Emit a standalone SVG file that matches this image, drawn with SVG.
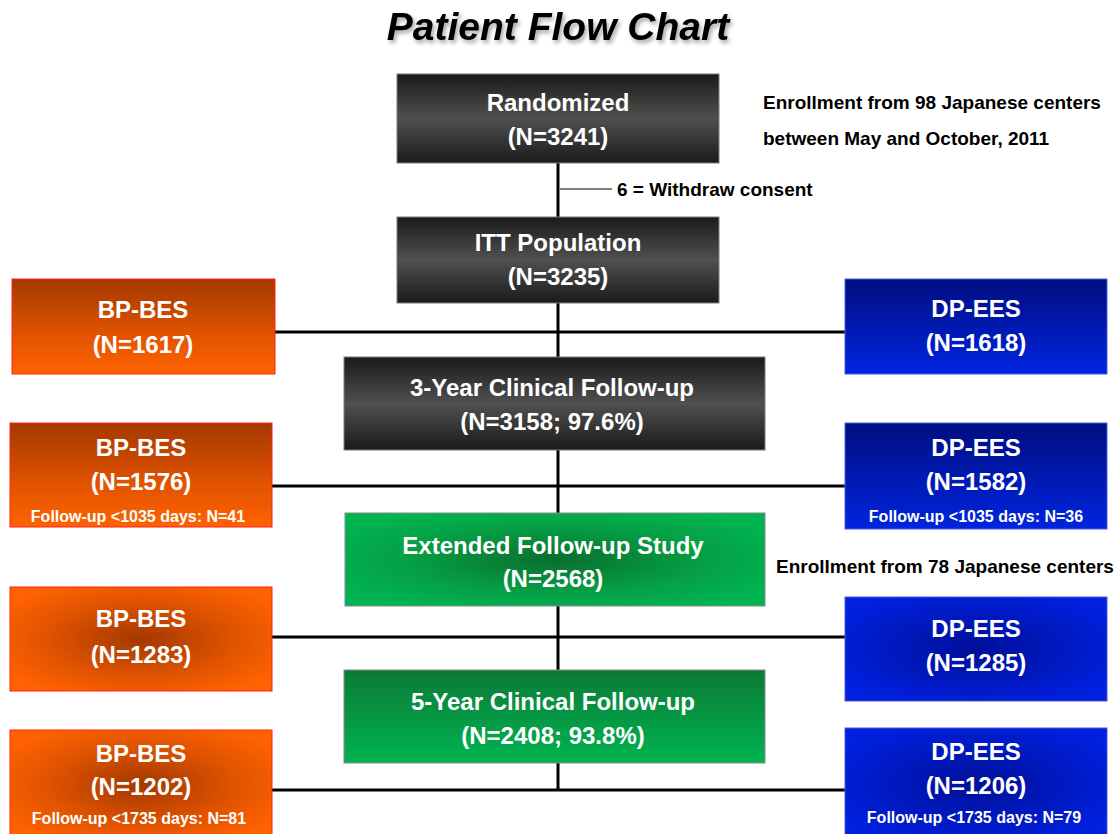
<svg xmlns="http://www.w3.org/2000/svg" width="1118" height="834" viewBox="0 0 1118 834">
<defs>
<linearGradient id="gDark" x1="0" y1="0" x2="0" y2="1">
<stop offset="0" stop-color="#1a1a1a"/><stop offset="0.5" stop-color="#505050"/><stop offset="1" stop-color="#1a1a1a"/>
</linearGradient>
<linearGradient id="gOrangeLin" x1="0" y1="0" x2="0" y2="1">
<stop offset="0" stop-color="#A33800"/><stop offset="0.6" stop-color="#E25400"/><stop offset="1" stop-color="#FF6200"/>
</linearGradient>
<radialGradient id="gOrangeRad" cx="0.5" cy="0.5" r="0.6">
<stop offset="0" stop-color="#A33800"/><stop offset="0.6" stop-color="#E05300"/><stop offset="1" stop-color="#FF6200"/>
</radialGradient>
<linearGradient id="gBlueLin" x1="0" y1="0" x2="0" y2="1">
<stop offset="0" stop-color="#000E80"/><stop offset="1" stop-color="#0024E0"/>
</linearGradient>
<radialGradient id="gBlueRad" cx="0.5" cy="0.5" r="0.6">
<stop offset="0" stop-color="#00109A"/><stop offset="1" stop-color="#0020E0"/>
</radialGradient>
<radialGradient id="gGreenRad" cx="0.5" cy="0.5" r="0.6">
<stop offset="0" stop-color="#0A6E2E"/><stop offset="0.6" stop-color="#05A045"/><stop offset="1" stop-color="#00B451"/>
</radialGradient>
<linearGradient id="gGreenLin" x1="0" y1="0" x2="0" y2="1">
<stop offset="0" stop-color="#0B7A36"/><stop offset="1" stop-color="#00B451"/>
</linearGradient>
<filter id="shadow" x="-5%" y="-20%" width="110%" height="150%">
<feDropShadow dx="2" dy="3" stdDeviation="2" flood-color="#000" flood-opacity="0.35"/>
</filter>
</defs>
<style>
text{font-family:"Liberation Sans",Arial,sans-serif;font-weight:bold}
.t{fill:#fff;font-size:24px;text-anchor:middle}
.s{fill:#fff;font-size:16px;text-anchor:middle}
.n{fill:#000;font-size:19px}
.dark{stroke:#7a7a7a;stroke-width:1}
.or{stroke:#ff2020;stroke-width:1}
.bl{stroke:#4a5ad8;stroke-width:1}
.gr{stroke:#8a8a8a;stroke-width:1}
.ln{stroke:#000;stroke-width:3;fill:none}
</style>
<rect width="1118" height="834" fill="#fff"/>
<text x="558" y="40" text-anchor="middle" font-size="39" font-style="italic" filter="url(#shadow)">Patient Flow Chart</text>

<g id="connectors">
<line class="ln" x1="558" y1="163" x2="558" y2="217"/>
<line x1="560" y1="189" x2="612" y2="189" stroke="#000" stroke-width="1"/>
<line class="ln" x1="558" y1="303" x2="558" y2="357"/>
<line class="ln" x1="274" y1="332" x2="846" y2="332"/>
<line class="ln" x1="558" y1="450" x2="558" y2="513"/>
<line class="ln" x1="272" y1="486" x2="846" y2="486"/>
<line class="ln" x1="558" y1="606" x2="558" y2="670"/>
<line class="ln" x1="272" y1="637" x2="846" y2="637"/>
<line class="ln" x1="558" y1="763" x2="558" y2="790"/>
<line class="ln" x1="272" y1="790" x2="846" y2="790"/>
</g>

<g id="notes">
<text class="n" x="617" y="196">6 = Withdraw consent</text>
<text class="n" x="763" y="109">Enrollment from 98 Japanese centers</text>
<text class="n" x="763" y="145">between May and October, 2011</text>
<text class="n" x="776" y="573">Enrollment from 78 Japanese centers</text>
</g>

<g id="randomized">
<rect class="dark" x="397" y="74" width="322" height="89" fill="url(#gDark)"/>
<text class="t" x="558" y="111">Randomized</text>
<text class="t" x="558" y="145">(N=3241)</text>
</g>
<g id="itt">
<rect class="dark" x="397" y="217" width="322" height="86" fill="url(#gDark)"/>
<text class="t" x="558" y="251">ITT Population</text>
<text class="t" x="558" y="285">(N=3235)</text>
</g>
<g id="bp1617">
<rect class="or" x="12" y="279" width="263" height="95" fill="url(#gOrangeLin)"/>
<text class="t" x="143" y="318">BP-BES</text>
<text class="t" x="143" y="353">(N=1617)</text>
</g>
<g id="dp1618">
<rect class="bl" x="845" y="279" width="262" height="95" fill="url(#gBlueLin)"/>
<text class="t" x="976" y="317">DP-EES</text>
<text class="t" x="976" y="351">(N=1618)</text>
</g>
<g id="fu3">
<rect class="dark" x="344" y="357" width="421" height="93" fill="url(#gDark)"/>
<text class="t" x="552" y="396">3-Year Clinical Follow-up</text>
<text class="t" x="552" y="430">(N=3158; 97.6%)</text>
</g>
<g id="bp1576">
<rect class="or" x="10" y="423" width="262" height="104" fill="url(#gOrangeLin)"/>
<text class="t" x="141" y="456">BP-BES</text>
<text class="t" x="141" y="490">(N=1576)</text>
<text class="s" x="138" y="522">Follow-up &lt;1035 days: N=41</text>
</g>
<g id="dp1582">
<rect class="bl" x="845" y="423" width="262" height="106" fill="url(#gBlueLin)"/>
<text class="t" x="976" y="456">DP-EES</text>
<text class="t" x="976" y="490">(N=1582)</text>
<text class="s" x="976" y="522">Follow-up &lt;1035 days: N=36</text>
</g>
<g id="ext">
<rect class="gr" x="345" y="513" width="420" height="93" fill="url(#gGreenRad)"/>
<text class="t" x="553" y="554">Extended Follow-up Study</text>
<text class="t" x="553" y="587">(N=2568)</text>
</g>
<g id="bp1283">
<rect class="or" x="10" y="587" width="262" height="104" fill="url(#gOrangeRad)"/>
<text class="t" x="141" y="627">BP-BES</text>
<text class="t" x="141" y="663">(N=1283)</text>
</g>
<g id="dp1285">
<rect class="bl" x="845" y="597" width="262" height="104" fill="url(#gBlueRad)"/>
<text class="t" x="976" y="637">DP-EES</text>
<text class="t" x="976" y="671">(N=1285)</text>
</g>
<g id="fu5">
<rect class="gr" x="344" y="670" width="421" height="93" fill="url(#gGreenLin)"/>
<text class="t" x="553" y="710">5-Year Clinical Follow-up</text>
<text class="t" x="553" y="744">(N=2408; 93.8%)</text>
</g>
<g id="bp1202">
<rect class="or" x="10" y="730" width="262" height="110" fill="url(#gOrangeRad)"/>
<text class="t" x="141" y="762">BP-BES</text>
<text class="t" x="141" y="795">(N=1202)</text>
<text class="s" x="139" y="824">Follow-up &lt;1735 days: N=81</text>
</g>
<g id="dp1206">
<rect class="bl" x="845" y="728" width="262" height="112" fill="url(#gBlueRad)"/>
<text class="t" x="976" y="760">DP-EES</text>
<text class="t" x="976" y="794">(N=1206)</text>
<text class="s" x="974" y="823">Follow-up &lt;1735 days: N=79</text>
</g>
</svg>
